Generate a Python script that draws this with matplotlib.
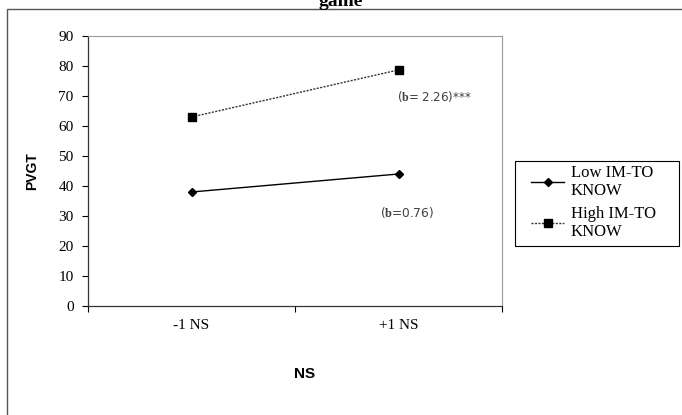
import matplotlib
matplotlib.use("Agg")
import matplotlib.pyplot as plt
from matplotlib.patches import Rectangle

categories = ["-1 NS", "+1 NS"]
low_im = [38, 44]
high_im = [63, 78.7]
series_labels = ["Low IM-TO\nKNOW", "High IM-TO\nKNOW"]
y_ticks = list(range(0, 100, 10))

plt.rcParams["mathtext.fontset"] = "custom"
plt.rcParams["mathtext.bf"] = "Liberation Serif:bold"

W, H = 682, 415
fig = plt.figure(figsize=(W / 100, H / 100), dpi=100)

# outer chart border (cropped at right/bottom)
fig.patches.append(Rectangle((7 / W, -0.05), 1.1, (H - 9) / H + 0.05,
                             transform=fig.transFigure, fill=False,
                             edgecolor="#555555", linewidth=1.0))
# title, cut off by the crop
fig.text(0.5, (H + 7) / H, "game", ha="center", va="top", fontsize=14,
         fontweight="bold", family="Liberation Serif")

ax = fig.add_axes([88 / W, (H - 306) / H, (502 - 88) / W, (306 - 36) / H])
xs = [i + 0.5 for i in range(len(categories))]
ax.plot(xs, low_im, color="black", lw=1.0, marker="D", ms=4.5,
        label=series_labels[0])
ax.plot(xs, high_im, color="#333333", lw=1.0, ls=(0, (1.5, 1)), marker="s",
        ms=6, mfc="black", mec="black", label=series_labels[1])

ax.set_xlim(0, len(categories))
ax.set_ylim(0, 90)
ax.set_yticks(y_ticks)
ax.set_xticks(range(len(categories) + 1))
ax.set_xticklabels([])
ax.set_xticks(xs, minor=True)
ax.set_xticklabels(categories, minor=True)
ax.tick_params(axis="both", which="major", direction="out", length=4.3,
               width=0.8, labelsize=11, pad=6)
ax.tick_params(axis="x", which="minor", length=0, pad=9, labelsize=11)
for lab in ax.get_yticklabels() + ax.get_xticklabels(minor=True):
    lab.set_family("Liberation Serif")

for s in ["top", "right"]:
    ax.spines[s].set_color("#999999")
    ax.spines[s].set_linewidth(0.8)
for s in ["left", "bottom"]:
    ax.spines[s].set_linewidth(0.9)
    ax.spines[s].set_color("#333333")

ax.set_ylabel("PVGT", fontsize=10, fontweight="bold", family="Liberation Sans")
ax.yaxis.label.set_va("center")
ax.yaxis.set_label_coords((32 - 88) / 414, 0.5)
ax.set_xlabel("NS", fontsize=11, fontweight="bold", family="Liberation Sans")
ax.xaxis.label.set_va("center")
ax.xaxis.set_label_coords((305 - 88) / 414, -(374 - 306) / 270)

ax.text(xs[1] - 0.007, 70, r"($\mathbf{b}$= 2.26)***", fontsize=8.6,
        color="#404040", va="center", ha="left")
ax.text(xs[1] - 0.09, 31.3, r"($\mathbf{b}$=0.76)", fontsize=8.8,
        color="#404040", va="center", ha="left")

# legend content without frame; frame drawn separately for wider padding
leg = fig.legend(loc="upper left", bbox_to_anchor=(531 / W, (H - 165) / H),
                 prop={"family": "Liberation Serif", "size": 12},
                 frameon=False, handlelength=2.0, borderpad=0,
                 labelspacing=0.4, handletextpad=0.4, borderaxespad=0)
fig.patches.append(Rectangle((515 / W, (H - 246) / H), 164 / W, 85 / H,
                             transform=fig.transFigure, fill=False,
                             edgecolor="black", linewidth=0.8))

fig.savefig("out.png", dpi=100)
